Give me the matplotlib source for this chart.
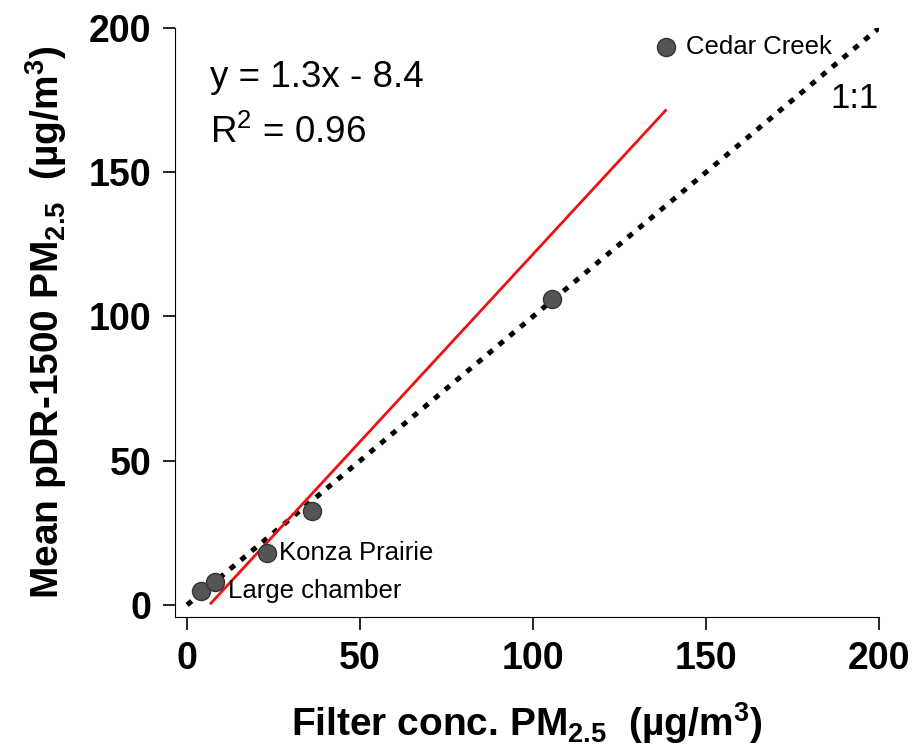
import numpy as np
import matplotlib
matplotlib.use('Agg')
import matplotlib.pyplot as plt

plt.rcParams['font.family'] = ['Liberation Sans', 'DejaVu Sans']
plt.rcParams['mathtext.fontset'] = 'custom'
plt.rcParams['mathtext.rm'] = 'Liberation Sans'
plt.rcParams['mathtext.it'] = 'Liberation Sans'
plt.rcParams['mathtext.bf'] = 'Liberation Sans:bold'

# datos
filtro = [4, 8, 23, 36, 105.6, 138.3]
pdr = [4.9, 8.0, 18.0, 32.6, 106.0, 193.4]
etiquetas = ['Large chamber', '', 'Konza Prairie', '', '', 'Cedar Creek']
etq_x = [11.8, 0, 26.6, 0, 0, 144.2]
pendiente = 1.3
intercepto = -8.4
ajuste_x = [6.9, 138.3]

fig = plt.figure(figsize=(9.16, 7.5), dpi=100)
ax = fig.add_axes([0.191, 0.1773, 0.7686, 0.7854])

# linea 1:1
ax.plot([0, 200], [0, 200], color='black', lw=3.6, linestyle=(0, (1.2, 1.6)),
        dash_capstyle='butt', zorder=2)
# ajuste
xa = np.array(ajuste_x)
ax.plot(xa, pendiente*xa + intercepto, color='#ee1111', lw=2, zorder=3)
ax.plot(filtro, pdr, 'o', ms=13, mfc='#555555', mec='#333333', mew=1, zorder=4)

for i in range(len(etiquetas)):
    if etiquetas[i] != '':
        ax.text(etq_x[i], pdr[i], etiquetas[i], fontsize=18.5, va='center', ha='left')

ax.text(6.6, 183, 'y = 1.3x - 8.4', fontsize=26.5, va='center', ha='left')
ax.text(6.6, 163.5, 'R$^2$ = 0.96', fontsize=26.5, va='center', ha='left')
ax.text(200, 175.5, '1:1', fontsize=25, va='center', ha='right')

ax.set_xlim(-3.5, 200)
ax.set_ylim(-4.2, 200)
ax.set_xticks([0, 50, 100, 150, 200])
ax.set_yticks([0, 50, 100, 150, 200])
ax.spines['top'].set_visible(False)
ax.spines['right'].set_visible(False)
ax.tick_params(direction='out', length=9, width=1.2, labelsize=27, pad=8)
for lab in ax.get_xticklabels() + ax.get_yticklabels():
    lab.set_fontweight('bold')

ax.set_xlabel(r'Filter conc. PM$_{\mathbf{2.5}}$  (µg/m$^{\mathbf{3}}$)', fontsize=28, fontweight='bold', labelpad=17)
ax.set_ylabel(r'Mean pDR-1500 PM$_{\mathbf{2.5}}$  (µg/m$^{\mathbf{3}}$)', fontsize=28, fontweight='bold', labelpad=14)

plt.savefig('out.png', dpi=100)
